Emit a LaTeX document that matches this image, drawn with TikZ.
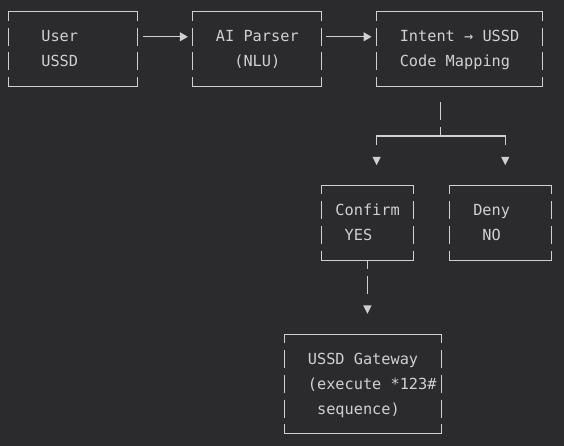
\documentclass[tikz,border=0pt]{standalone}
\usepackage{fontspec}
\newfontfamily\asciifont{DejaVu Sans Mono}
\usetikzlibrary{arrows.meta}
\definecolor{bgc}{RGB}{43,43,45}
\definecolor{fgc}{RGB}{208,208,208}
\newcommand\asciibox[5]{%
  \node[inner sep=0pt,minimum width={#3-#2},minimum height={#5-#4}] (#1) at ({(#2+#3)/2},{(#4+#5)/2}) {};
  \draw[hl] (#1.north west) -- (#1.north east) (#1.south west) -- (#1.south east);
  \draw[vb] (#1.north west) -- (#1.south west);
  \draw[vb] (#1.north east) -- (#1.south east);
}
\begin{document}
\begin{tikzpicture}[x=1pt,y=-1pt,
  ln/.style={draw=fgc,line width=1.1pt},
  hl/.style={ln,line cap=rect},
  vb/.style={ln,dash pattern=on 18pt off 6.8pt,dash phase=9pt},
  arr/.style={ln,-{Triangle[length=8pt,width=9pt]}},
  tri/.style={fill=fgc},
  txt/.style={anchor=base west,inner sep=0pt,text=fgc,font=\asciifont\fontsize{15.27pt}{18pt}\selectfont}]
\fill[bgc] (0,0) rectangle (564,446);
\useasboundingbox (0,0) rectangle (564,446);

% boxes
\asciibox{box1}{9}{137.66}{12}{86.4}
\asciibox{box2}{192.8}{321.46}{12}{86.4}
\asciibox{box3}{376.6}{542.02}{12}{86.4}
\asciibox{conf}{321.46}{413.36}{185.6}{260}
\asciibox{deny}{450.12}{551.21}{185.6}{260}
\asciibox{gate}{284.7}{440.93}{334.4}{433.6}

% texts
\node[txt] (t1a) at (41.16,42.0) {User};
\node[txt] (t1b) at (41.16,66.8) {USSD};
\node[txt] (t2a) at (215.77,42.0) {AI Parser};
\node[txt] (t2b) at (234.15,66.8) {(NLU)};
\node[txt] (t3a) at (399.57,42.0) {Intent → USSD};
\node[txt] (t3b) at (399.57,66.8) {Code Mapping};
\node[txt] (t4a) at (335.24,215.6) {Confirm};
\node[txt] (t4b) at (344.43,240.4) {YES};
\node[txt] (t5a) at (473.09,215.6) {Deny};
\node[txt] (t5b) at (482.28,240.4) {NO};
\node[txt] (t6a) at (307.67,364.4) {USSD Gateway};
\node[txt] (t6b) at (307.67,389.2) {(execute *123\#};
\node[txt] (t6c) at (316.86,414.0) {sequence)};

% horizontal arrows
\draw[arr] ([shift={(5.3,-12.4)}]box1.east) -- ([shift={(-4.8,-12.4)}]box2.west);
\draw[arr] ([shift={(4.6,-12.4)}]box2.east) -- ([shift={(-4.9,-12.4)}]box3.west);

% branch below box3
\coordinate (split) at (440.93,136);
\coordinate (lbr) at (376.6,136);
\coordinate (rbr) at (505.26,136);
\draw[ln,dash pattern=on 18pt off 6.8pt] ([shift={(-18.38,15.8)}]box3.south) -- (split);
\draw[ln] ([yshift=-9pt]lbr) -- (lbr) -- (rbr) -- ([yshift=-9pt]rbr);
\fill[tri] ([shift={(-4.2,20.8)}]lbr) -- ++(8.4,0) -- ++(-4.2,8.4) -- cycle;
\fill[tri] ([shift={(-4.2,20.8)}]rbr) -- ++(8.4,0) -- ++(-4.2,8.4) -- cycle;

% confirm to gateway
\draw[vb] (conf.south) -- ++(0,33.8);
\fill[tri] ([shift={(-4.2,45.2)}]conf.south) -- ++(8.4,0) -- ++(-4.2,8.4) -- cycle;
\end{tikzpicture}
\end{document}
